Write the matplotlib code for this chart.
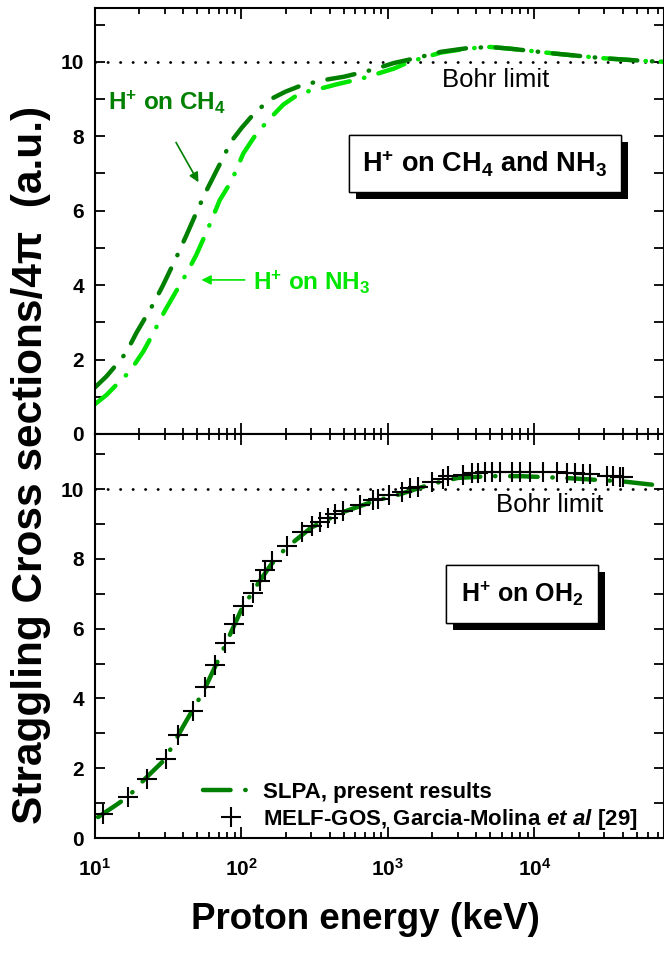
import numpy as np
import matplotlib
matplotlib.use('Agg')
import matplotlib.pyplot as plt
import matplotlib.patheffects as pe
from matplotlib.ticker import LogLocator, FixedLocator, NullFormatter, FuncFormatter

plt.rcParams['font.family'] = ['Liberation Sans', 'DejaVu Sans']
plt.rcParams['mathtext.fontset'] = 'custom'
plt.rcParams['mathtext.rm'] = 'Liberation Sans:bold'
plt.rcParams['mathtext.bf'] = 'Liberation Sans:bold'
plt.rcParams['mathtext.it'] = 'Liberation Sans:bold:italic'
plt.rcParams['mathtext.default'] = 'rm'

#################### DATA ######################
# top panel : H+ on CH4 and NH3 (SLPA)
E_ch4 = [10, 12, 14, 16.3, 19.2, 25, 29, 36, 42, 50, 57, 72, 85, 100, 120, 155, 200,
         250, 350, 500, 770, 1100, 1550, 2300, 3500, 5000, 7000, 14000, 29000, 59000, 80000]
S_ch4 = [1.25, 1.55, 1.86, 2.18, 2.72, 3.49, 3.98, 4.75, 5.33, 6.01, 6.5, 7.29, 7.86, 8.22,
         8.58, 8.98, 9.2, 9.35, 9.5, 9.6, 9.78, 9.97, 10.1, 10.27, 10.37, 10.4, 10.35, 10.22,
         10.1, 10.02, 10.0]
E_nh3 = [10, 12, 14, 17.3, 21.4, 24.4, 30, 36, 42, 49, 59, 71, 86, 103, 127, 161, 193,
         251, 361, 450, 660, 1100, 1400, 2300, 3500, 5000, 7000, 14000, 29000, 59000, 80000]
S_nh3 = [0.8, 1.05, 1.32, 1.68, 2.22, 2.63, 3.31, 3.85, 4.3, 4.8, 5.51, 6.28, 6.82, 7.54,
         8.08, 8.53, 8.85, 9.16, 9.3, 9.4, 9.55, 9.82, 10.0, 10.25, 10.36, 10.4, 10.35, 10.22,
         10.1, 10.02, 10.0]

# bottom panel : H+ on OH2
E_h2o = [10.5, 14, 17, 22, 30, 40, 55, 75, 100, 130, 160, 200, 300, 500, 800, 1200, 2000,
         3000, 5000, 8000, 16000, 40000, 80000]
S_h2o = [0.6, 0.95, 1.2, 1.7, 2.25, 3.2, 4.2, 5.4, 6.55, 7.3, 7.85, 8.3, 8.9, 9.35, 9.65,
         9.85, 10.15, 10.32, 10.37, 10.37, 10.32, 10.22, 10.08]
E_melf = [11.4, 16.9, 22.8, 30.5, 37, 46.9, 56.4, 66, 77, 89, 103, 119, 134, 145, 161, 203,
          258, 301, 343, 391, 434, 495, 644, 795, 855, 1020, 1240, 1413, 1600, 1990, 2390,
          2570, 3270, 3720, 4140, 4600, 5100, 5820, 6990, 7960, 9310, 11480, 14160, 16580,
          18900, 21500, 23900, 31100, 34500, 38300, 40300]
S_melf = [0.68, 1.18, 1.68, 2.27, 2.95, 3.64, 4.32, 4.95, 5.59, 6.14, 6.64, 7.02, 7.36, 7.68,
          7.95, 8.36, 8.77, 8.95, 9.06, 9.18, 9.29, 9.36, 9.53, 9.68, 9.73, 9.84, 9.91, 10.02,
          10.07, 10.2, 10.29, 10.38, 10.41, 10.45, 10.47, 10.48, 10.5, 10.5, 10.5, 10.5, 10.5,
          10.49, 10.48, 10.47, 10.45, 10.43, 10.42, 10.38, 10.37, 10.36, 10.36]
bohr = 10
#########################################################

dark = '#008000'
light = '#00e600'
dashdot = (0, (6.2, 3.3, 0.1, 3.3))
xmin, xmax = 10, 7.66e4

fig = plt.figure(figsize=(6.64, 9.65), dpi=100)
ax1 = fig.add_axes([0.143, 0.5503, 0.857, 0.4415])
ax2 = fig.add_axes([0.143, 0.1316, 0.857, 0.4187], sharex=ax1)

def style(ax, ytop):
	ax.set_xscale('log')
	ax.set_xlim(xmin, xmax)
	ax.set_ylim(0, ytop)
	ax.xaxis.set_major_locator(LogLocator(base=10, numticks=10))
	ax.xaxis.set_minor_locator(LogLocator(base=10, subs=np.arange(2, 10), numticks=10))
	ax.yaxis.set_major_locator(FixedLocator([0, 2, 4, 6, 8, 10]))
	ax.yaxis.set_minor_locator(FixedLocator([1, 3, 5, 7, 9, 11]))
	ax.tick_params(which='both', direction='in', top=True, right=True, width=1.3,
	               labelsize=15)
	ax.tick_params(axis='x', which='major', length=8)
	ax.tick_params(axis='x', which='minor', length=4.5)
	ax.tick_params(axis='y', which='both', length=7, pad=8)
	for t in ax.get_yticklabels():
		t.set_fontweight('bold')
	for s in ax.spines.values():
		s.set_linewidth(1.5)
	ax.axhline(bohr, color='k', lw=2, linestyle=(0, (0.1, 4.4)), dash_capstyle='round')

style(ax1, 11.45)
style(ax2, 11.58)
ax1.tick_params(labelbottom=False)
ax2.xaxis.set_major_formatter(FuncFormatter(lambda v, p: r'$10^{%d}$' % round(np.log10(v))))
ax2.xaxis.set_minor_formatter(NullFormatter())
ax2.tick_params(axis='x', pad=14)

# top panel
ax1.plot(E_nh3, S_nh3, color=light, lw=3.2, linestyle=dashdot, dash_capstyle='round')
ax1.plot(E_ch4, S_ch4, color=dark, lw=3.2, linestyle=dashdot, dash_capstyle='round')
ax1.text(12.3, 8.71, r'H$^{+}$ on CH$_{4}$', color=dark, fontsize=17.5, fontweight='bold',
         va='baseline')
ax1.annotate('', xy=(52, 6.7), xytext=(35, 7.9),
             arrowprops=dict(arrowstyle='-|>', color=dark, lw=1.2, mutation_scale=14))
ax1.text(120, 3.87, r'H$^{+}$ on NH$_{3}$', color=light, fontsize=17.5, fontweight='bold',
         va='baseline')
ax1.annotate('', xy=(51, 4.14), xytext=(110, 4.14),
             arrowprops=dict(arrowstyle='-|>', color=light, lw=1.2, mutation_scale=14))
ax1.text(5460, 9.52, 'Bohr limit', fontsize=18.5, ha='center', va='center')
t1 = ax1.text(4590, 7.27, r'H$^{+}$ on CH$_{4}$ and NH$_{3}$', fontsize=19.5,
              fontweight='bold', ha='center', va='center',
              bbox=dict(boxstyle='square,pad=0.5', fc='white', ec='k', lw=1))
t1.get_bbox_patch().set_path_effects([pe.withSimplePatchShadow(offset=(5, -5),
                                      shadow_rgbFace='k', alpha=1), pe.Normal()])

# bottom panel
ax2.plot(E_h2o, S_h2o, color=dark, lw=3.2, linestyle=dashdot, dash_capstyle='round',
         label='SLPA, present results')
ax2.plot(E_melf, S_melf, linestyle='none', marker='+', color='k', ms=15, mew=1.5,
         label=r'MELF-GOS, Garcia-Molina $\mathit{et\ al}$ [29]')
ax2.text(12600, 9.54, 'Bohr limit', fontsize=18.5, ha='center', va='center')
t2 = ax2.text(8220, 6.99, r'H$^{+}$ on OH$_{2}$', fontsize=18, fontweight='bold',
              ha='center', va='center',
              bbox=dict(boxstyle='square,pad=0.6', fc='white', ec='k', lw=1))
t2.get_bbox_patch().set_path_effects([pe.withSimplePatchShadow(offset=(5, -5),
                                      shadow_rgbFace='k', alpha=1), pe.Normal()])
ax2.legend(loc='lower left', bbox_to_anchor=(0.19, 0.015), frameon=False,
           prop=dict(size=16, weight='bold'), handlelength=2.5, handletextpad=0.2,
           labelspacing=0.2, borderpad=0, borderaxespad=0)

ax2.set_xlabel('Proton energy (keV)', fontsize=26.5, fontweight='bold')
ax2.xaxis.set_label_coords(0.475, -0.158)
fig.text(0.047, 0.518, 'Straggling Cross sections/4π  (a.u.)', rotation=90, fontsize=30.5,
         fontweight='bold', ha='center', va='center')

fig.savefig('out.png', dpi=100)
